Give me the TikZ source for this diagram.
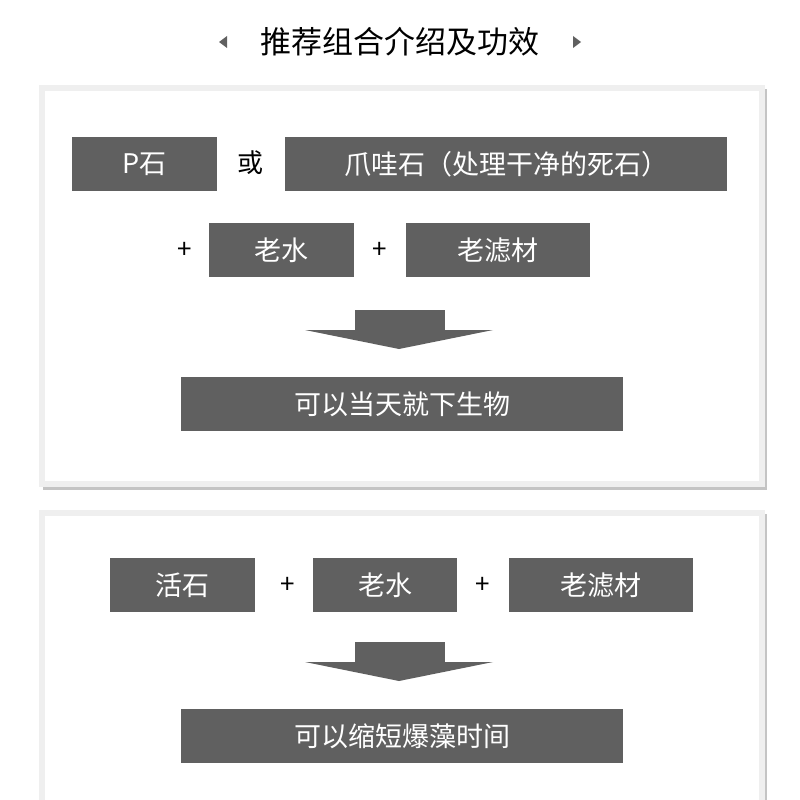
\documentclass[tikz,border=0pt]{standalone}
\usepackage{fontspec}
\setmainfont{Noto Sans CJK SC}
\begin{document}
\begin{tikzpicture}[x=1pt,y=-1pt,
  gb/.style={fill=boxg,draw=none},
  lbl/.style={text=white,font=\fontsize{27}{30}\selectfont,inner sep=0},
  pl/.style={font=\fontsize{26}{30}\selectfont,inner sep=0},
  panel/.style={fill=white,draw=panelb,line width=6pt}]
\definecolor{boxg}{HTML}{606060}
\definecolor{panelb}{HTML}{EFEFEF}
\definecolor{shad}{HTML}{C4C4C4}
\useasboundingbox[fill=white] (0,0) rectangle (800,800);
% title
\node[font=\fontsize{31}{34}\selectfont,inner sep=0] (title) at (400,42) {推荐组合介绍及功效};
\fill[boxg] (227,36) -- (227,48) -- (219,42) -- cycle;
\fill[boxg] (573,36) -- (573,48) -- (581,42) -- cycle;
% panel 1
\fill[shad] (43,89) rectangle (767,490);
\draw[panel] (42,88) rectangle (762,484);
\fill[gb] (72,137) rectangle (217,191); \node[lbl] (p) at (144.5,164) {P石};
\node[pl] (or) at (250,163) {或};
\fill[gb] (285,137) rectangle (727,191); \node[lbl] (z) at (506,164) {爪哇石（处理干净的死石）};
\node[pl] (pl1) at (185,250) {+};
\fill[gb] (209,223) rectangle (354,277); \node[lbl] (ls) at (281.5,250) {老水};
\node[pl] (pl2) at (380,250) {+};
\fill[gb] (406,223) rectangle (590,277); \node[lbl] (lc) at (498,250) {老滤材};
\fill[boxg] (355,310) rectangle (445,330);
\fill[boxg] (305,330) -- (493,330) -- (399,349) -- cycle;
\fill[gb] (181,377) rectangle (623,431); \node[lbl] (r1) at (402,404) {可以当天就下生物};
% panel 2
\fill[shad] (43,514) rectangle (767,806);
\draw[panel] (42,513) rectangle (762,810);
\fill[gb] (110,558) rectangle (255,612); \node[lbl] (hs) at (182.5,585) {活石};
\node[pl] (pl3) at (288,585) {+};
\fill[gb] (313,558) rectangle (457,612); \node[lbl] (ls2) at (385,585) {老水};
\node[pl] (pl4) at (483,585) {+};
\fill[gb] (509,558) rectangle (693,612); \node[lbl] (lc2) at (601,585) {老滤材};
\fill[boxg] (355,642) rectangle (445,662);
\fill[boxg] (305,662) -- (493,662) -- (399,681) -- cycle;
\fill[gb] (181,709) rectangle (623,763); \node[lbl] (r2) at (402,736) {可以缩短爆藻时间};
\end{tikzpicture}
\end{document}
